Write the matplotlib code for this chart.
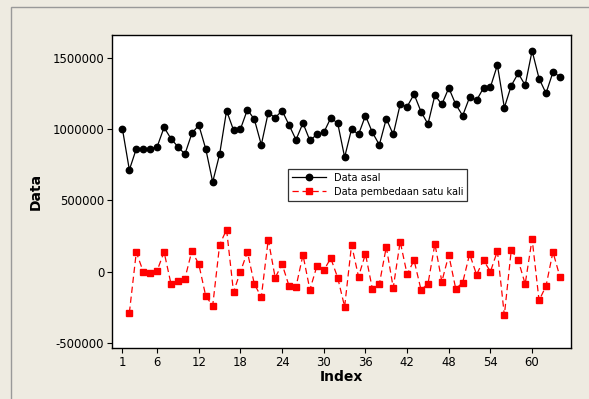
import numpy as np
import matplotlib.pyplot as plt
from matplotlib.patches import Rectangle

# original series
idx_asal = np.arange(1, 65)
data_asal = [1000000, 713000, 860500, 860000, 860000, 874600, 1010600, 931000,
             874600, 823000, 968000, 1027000, 860000, 628000, 823000, 1128000,
             992000, 999000, 1135000, 1067000, 888600, 1114000, 1078600, 1128000,
             1027000, 924000, 1041000, 919000, 961000, 975000, 1076000, 1041000,
             802000, 999000, 961000, 1093000, 975000, 888600, 1071500, 961000,
             1172000, 1156000, 1243000, 1121000, 1034000, 1236000, 1172000, 1287000,
             1172000, 1093000, 1222000, 1200500, 1287000, 1294000, 1447000, 1149000,
             1303600, 1390000, 1306000, 1547500, 1353000, 1250000, 1397000, 1367000]

# first differenced series (starts at index 2)
idx_beda = np.arange(2, 65)
data_beda = [-288000, 136000, 0, -7000, 7000, 138000, -87000, -66000, -49000,
             145000, 52000, -171000, -239000, 188000, 295000, -143000, 0, 138000,
             -87000, -178000, 225000, -42000, 52000, -101000, -106000, 117000,
             -127000, 38000, 9000, 94000, -42000, -246000, 188000, -35000, 124000,
             -122000, -87000, 173000, -113000, 211000, -19000, 80000, -127000,
             -87000, 195000, -70000, 117000, -120000, -77000, 124000, -21000,
             80000, 0, 145000, -305000, 152000, 80000, -87000, 230000, -202000,
             -101000, 138000, -35000]

xticks = [1, 6, 12, 18, 24, 30, 36, 42, 48, 54, 60]
yticks = [-500000, 0, 500000, 1000000, 1500000]

bg = '#EEEBE1'
fig = plt.figure(figsize=(5.89, 3.99), dpi=100, facecolor=bg)
fig.patches.append(Rectangle((11 / 589, -0.1), 1, 1.1 - 7 / 399, transform=fig.transFigure,
                             fill=False, edgecolor='#999999', linewidth=1.0))

ax = fig.add_axes([112 / 589, 1 - 348 / 399, (571 - 112) / 589, (348 - 35) / 399])
ax.plot(idx_asal, data_asal, color='black', lw=0.9, marker='o', ms=4.6,
        label='Data asal')
ax.plot(idx_beda, data_beda, color='red', lw=0.9, ls=(0, (5, 3)), marker='s', ms=3.8,
        label='Data pembedaan satu kali')

ax.set_xlim(-0.5, 65.6)
ax.set_ylim(-535000, 1658000)
ax.set_xticks(xticks)
ax.set_yticks(yticks)
ax.set_yticklabels([str(v) for v in yticks])
ax.tick_params(labelsize=8.4, length=3.6, width=0.8, direction='out', pad=2)
for s in ax.spines.values():
    s.set_linewidth(1.0)
ax.set_xlabel('Index', fontsize=10, fontweight='bold', labelpad=1)
ax.set_ylabel('Data', fontsize=10, fontweight='bold', labelpad=7)

leg = ax.legend(loc='upper left', bbox_to_anchor=((288 - 112) / 459, 1 - (169 - 35) / 313),
                fontsize=7, frameon=True, fancybox=False, framealpha=1,
                edgecolor='#333333', handlelength=3.5, borderpad=0.4, labelspacing=0.4,
                borderaxespad=0)
leg.get_frame().set_linewidth(0.9)

fig.savefig('out.png', dpi=100, facecolor=bg)
